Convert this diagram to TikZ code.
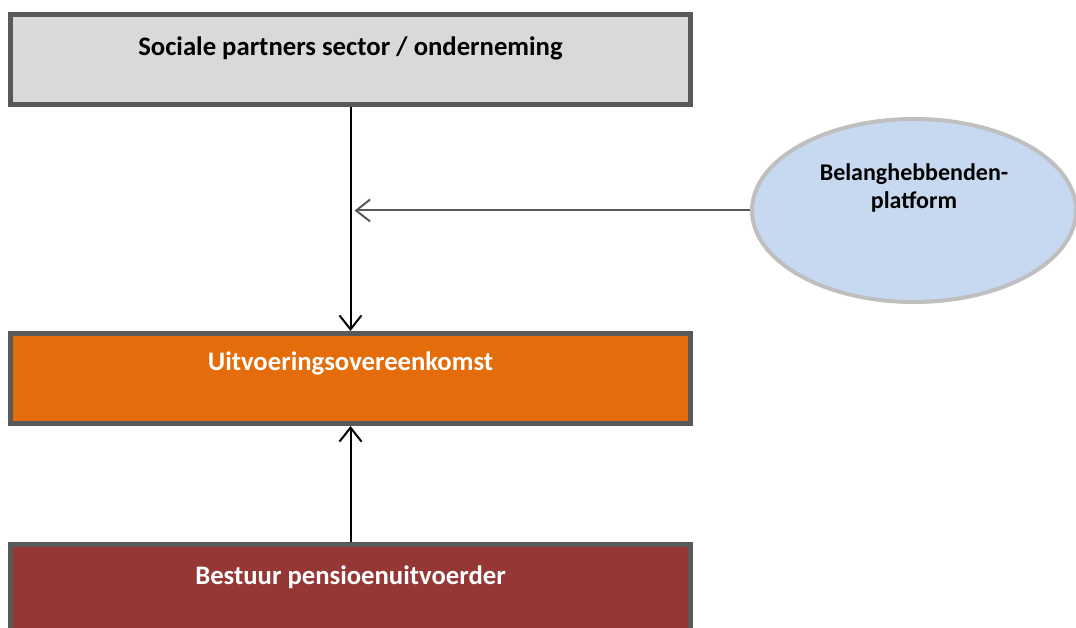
\documentclass[tikz,border=0pt]{standalone}
\usepackage{fontspec}
\setmainfont{Carlito}
\usetikzlibrary{shapes.geometric,arrows.meta}
\definecolor{rand}{HTML}{595959}
\definecolor{grijs}{HTML}{D9D9D9}
\definecolor{oranje}{HTML}{E46C0A}
\definecolor{rood}{HTML}{953735}
\definecolor{lichtblauw}{HTML}{C6D9F1}
\definecolor{lichtgrijs}{HTML}{BFBFBF}
\begin{document}
\begin{tikzpicture}[x=1pt,y=-1pt,
    blok/.style={draw=rand,line width=5pt,minimum width=680pt,minimum height=90pt,inner sep=0pt,font=\fontsize{26.7}{30}\selectfont\bfseries},
    pijl/.style={-{Straight Barb[length=14pt,width=22pt]},line width=2pt}]
            \useasboundingbox (0,0) rectangle (1076,628);
            \node [blok,fill=grijs,text height=41.5pt,text depth=48.5pt] (sociaal) at (350.5,59.5) {Sociale partners sector / onderneming};
            \node [blok,fill=oranje,text=white,text height=36.5pt,text depth=53.5pt] (uvo) at (350.5,378.5) {Uitvoeringsovereenkomst};
            \node [blok,fill=rood,text=white,text height=39.5pt,text depth=50.5pt] (bestuur) at (350.5,589.5) {Bestuur pensioenuitvoerder};
            \node [ellipse,draw=lichtgrijs,line width=4pt,fill=lichtblauw,minimum width=324pt,minimum height=183pt,inner sep=0pt,text height=22pt,text depth=25pt,font=\fontsize{24}{28}\selectfont\bfseries] (platform) at (914,210.5) {\begin{tabular}[b]{@{}c@{}}Belanghebbenden-\\platform\end{tabular}};
            \draw [pijl] (sociaal) -- (uvo);
            \draw [pijl] (bestuur) -- (uvo);
            \draw [pijl,rand,shorten >=4pt] (platform.west) -- (platform.west -| sociaal.south);
        \end{tikzpicture}
\end{document}
